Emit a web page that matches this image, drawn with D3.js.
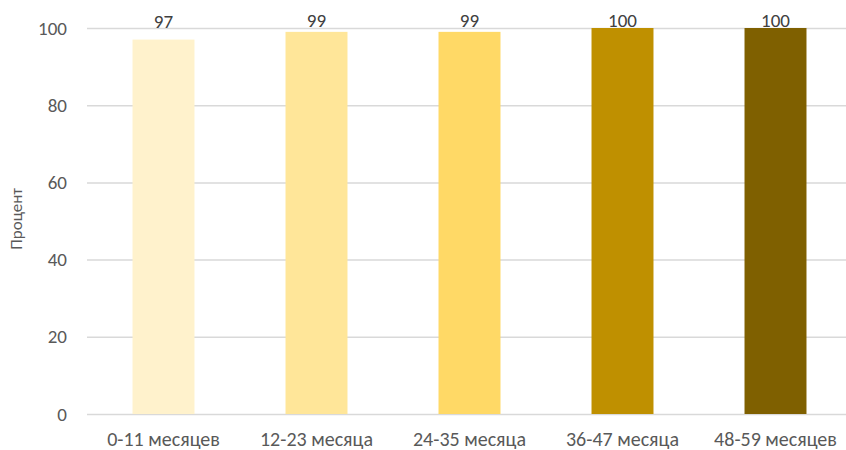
<!DOCTYPE html>
<html>
<head>
<meta charset="utf-8">
<script src="https://cdn.jsdelivr.net/npm/d3@7/dist/d3.min.js"></script>
<style>
  html, body { margin: 0; padding: 0; background: #fff; }
  svg { display: block; font-family: Carlito, Lato, "Open Sans", sans-serif; }
</style>
</head>
<body>
<svg id="chart" width="846" height="450"></svg>
<script>
const categories = ["0-11 месяцев", "12-23 месяца", "24-35 месяца", "36-47 месяца", "48-59 месяцев"];
const values = [97, 99, 99, 100, 100];
const colors = ["#FFF2CC", "#FFE699", "#FFD966", "#BF9000", "#7F6000"];
const yTicks = [0, 20, 40, 60, 80, 100];
const yTitle = "Процент";

(function () {
  const svg = d3.select("#chart");
  const W = 846;
  const plotLeft = 87, plotRight = 852, plotTop = 28, plotBottom = 414;
  const font = "Carlito, Lato, 'Open Sans', sans-serif";
  const fs = 19;

  const x = d3.scaleBand().domain(categories).range([plotLeft, plotRight])
    .paddingInner(0.595).paddingOuter(0.2975);
  const y = d3.scaleLinear().domain([0, 100]).range([plotBottom, plotTop]);

  // horizontal gridlines
  svg.append("g").selectAll("line").data(yTicks).join("line")
    .attr("x1", plotLeft).attr("x2", W)
    .attr("y1", d => y(d) + 0.5).attr("y2", d => y(d) + 0.5)
    .attr("stroke", "#d9d9d9").attr("stroke-width", 1.5);

  // y axis tick labels
  const yAxis = d3.axisLeft(y).tickValues(yTicks).tickSize(0).tickPadding(20);
  const gy = svg.append("g").attr("transform", `translate(${plotLeft},0)`).call(yAxis);
  gy.select(".domain").remove();
  gy.selectAll("text").attr("fill", "#595959").attr("font-size", fs)
    .attr("font-family", font);

  // x axis category labels
  const xAxis = d3.axisBottom(x).tickSize(0).tickPadding(0);
  const gx = svg.append("g").attr("transform", `translate(0,${plotBottom})`).call(xAxis);
  gx.select(".domain").remove();
  gx.selectAll("text").attr("fill", "#595959").attr("font-size", 20)
    .attr("font-family", font).attr("dy", null).attr("y", 32);

  // bars
  svg.append("g").selectAll("rect").data(values).join("rect")
    .attr("x", (d, i) => x(categories[i]))
    .attr("width", x.bandwidth())
    .attr("y", d => y(d))
    .attr("height", d => y(0) - y(d))
    .attr("fill", (d, i) => colors[i]);

  // value labels, kept inside the top of the plot area
  svg.append("g").selectAll("text").data(values).join("text")
    .attr("x", (d, i) => x(categories[i]) + x.bandwidth() / 2)
    .attr("y", d => Math.max(y(d) - 12, 27))
    .attr("text-anchor", "middle")
    .attr("font-size", fs)
    .attr("fill", "#404040")
    .text(d => d);

  // y axis title
  svg.append("text")
    .attr("transform", `translate(22,${(plotTop + plotBottom) / 2 - 2}) rotate(-90)`)
    .attr("text-anchor", "middle")
    .attr("font-size", 17)
    .attr("fill", "#595959")
    .text(yTitle);
})();
</script>
</body>
</html>
